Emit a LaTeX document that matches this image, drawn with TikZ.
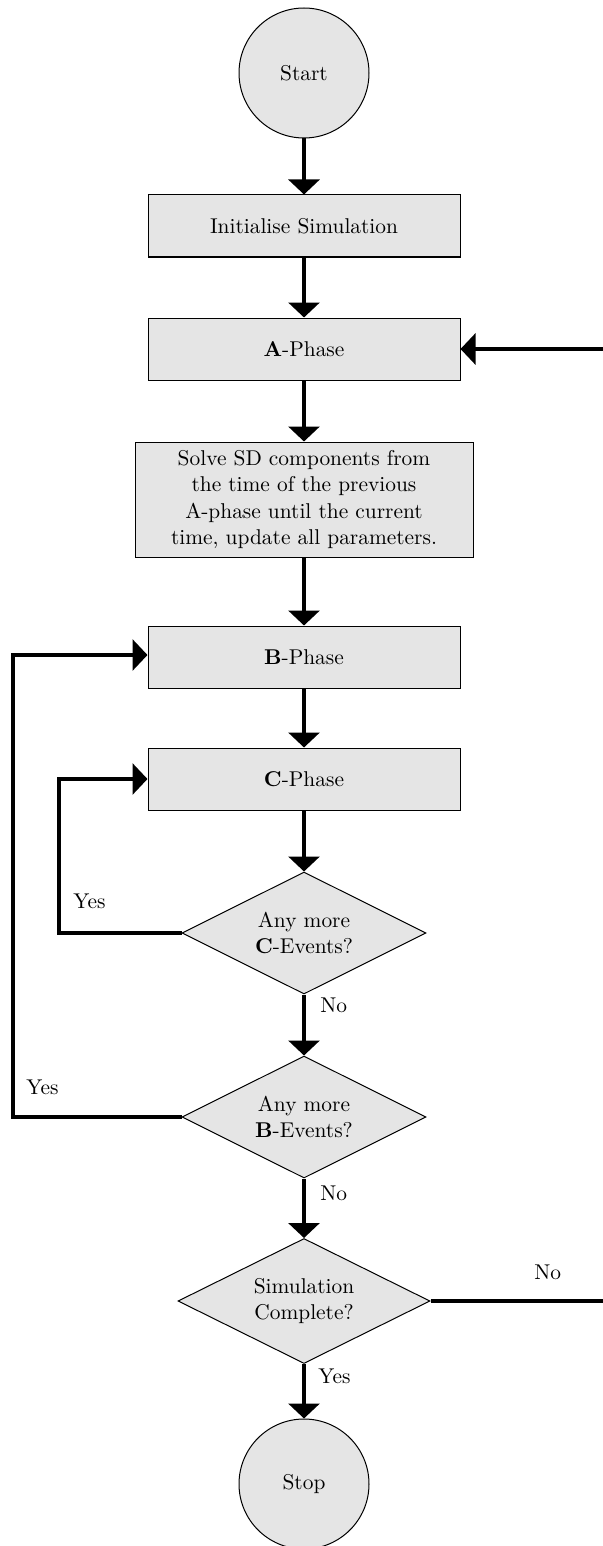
\documentclass[tikz,border=0pt]{standalone}
\usetikzlibrary{shapes.geometric,arrows.meta}
\begin{document}
\begin{tikzpicture}[x=0.5pt,y=-0.5pt,
  every node/.style={font=\fontsize{10.7}{13.2}\selectfont},
  box/.style={draw, line width=0.5pt, fill=gray!20, minimum width=156pt, minimum height=31pt, inner sep=2pt},
  term/.style={draw, line width=0.5pt, fill=gray!20, circle, minimum size=65pt, inner sep=0pt},
  dec/.style={draw, line width=0.5pt, fill=gray!20, diamond, aspect=2, inner sep=1pt, minimum width=122pt, minimum height=61pt, align=center},
  conn/.style={line width=1.6pt, -{Triangle[width=15.5pt,length=7.5pt]}},
  line/.style={line width=1.6pt},
  lbl/.style={inner sep=0pt, anchor=west}
]
\useasboundingbox (0,0) rectangle (603,1546);
\clip (0,0) rectangle (603,1546);

\node[term] (start) at (304,73) {Start};
\node[box] (init) at (304,226) {Initialise Simulation};
\node[box] (aph) at (304,349) {\textbf{A}-Phase};
\node[box, minimum width=169pt, minimum height=57.5pt, align=center] (sd) at (304,499.5)
  {Solve SD components from\\the time of the previous\\A-phase until the current\\time, update all parameters.};
\node[box] (bph) at (304,657) {\textbf{B}-Phase};
\node[box] (cph) at (304,779) {\textbf{C}-Phase};
\node[dec] (cdec) at (304,933) {Any more\\\textbf{C}-Events?};
\node[dec] (bdec) at (304,1117) {Any more\\\textbf{B}-Events?};
\node[dec, minimum width=126pt, minimum height=62.5pt] (sim) at (304,1301) {Simulation\\Complete?};
\node[term] (stop) at (304,1484) {Stop};

\coordinate (cl1) at (59,933);
\coordinate (cl2) at (59,779);
\coordinate (bl1) at (13,1117);
\coordinate (bl2) at (13,655);
\coordinate (rs) at (603,1301);
\coordinate (ra) at (603,349);

\draw[conn] (start) -- (init);
\draw[conn] (init) -- (aph);
\draw[conn] (aph) -- (sd);
\draw[conn] (sd) -- (bph);
\draw[conn] (bph) -- (cph);
\draw[conn] (cph) -- (cdec);
\draw[conn] (cdec) -- (bdec);
\draw[conn] (bdec) -- (sim);
\draw[conn] (sim) -- (stop);
\draw[conn] (cdec.west) -- (cl1) -- (cl2) -- (cph.west);
\draw[conn] (bdec.west) -- (bl1) -- (bl2) -- (bph.west |- bl2);
\draw[line] (sim.east) -- (rs);
\draw[conn] (ra) -- (aph.east);

\node[lbl] (ly1) at (73,901) {Yes};
\node[lbl] (ln1) at (320,1005) {No};
\node[lbl] (ly2) at (26,1087) {Yes};
\node[lbl] (ln2) at (320,1193) {No};
\node[lbl] (ln3) at (534,1272) {No};
\node[lbl] (ly3) at (318,1376) {Yes};
\end{tikzpicture}
\end{document}
